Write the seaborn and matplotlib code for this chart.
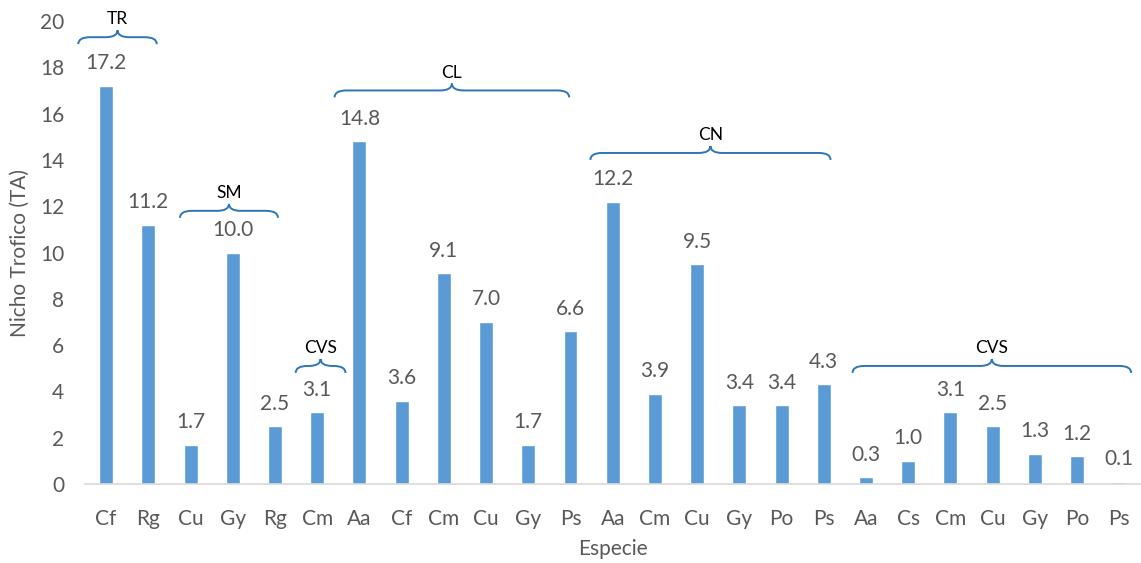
import numpy as np
import matplotlib
matplotlib.use("Agg")
import matplotlib.pyplot as plt
from matplotlib.path import Path
from matplotlib.patches import PathPatch
import seaborn as sns

# Species codes along the x axis, in plotting order
species = ["Cf", "Rg", "Cu", "Gy", "Rg", "Cm", "Aa", "Cf", "Cm", "Cu", "Gy", "Ps",
           "Aa", "Cm", "Cu", "Gy", "Po", "Ps", "Aa", "Cs", "Cm", "Cu", "Gy", "Po", "Ps"]
# Trophic niche (TA) per species
nicho = [17.2, 11.2, 1.7, 10.0, 2.5, 3.1, 14.8, 3.6, 9.1, 7.0, 1.7, 6.6,
         12.2, 3.9, 9.5, 3.4, 3.4, 4.3, 0.3, 1.0, 3.1, 2.5, 1.3, 1.2, 0.1]
# Habitat groups: label, first bar, last bar
grupos = [("TR", 0, 1), ("SM", 2, 4), ("CVS", 5, 5), ("CL", 6, 11),
          ("CN", 12, 17), ("CVS", 18, 24)]

# Brace placement (x extent in bar units, base height in data units)
brace_layout = [(-0.66, 1.20, 19.0), (1.75, 4.07, 11.5), (4.49, 5.67, 4.8),
                (5.41, 10.97, 16.7), (11.47, 17.16, 14.0), (17.68, 24.28, 4.8)]

sns.set_theme(style="white")
plt.rcParams["font.family"] = ["Lato", "DejaVu Sans"]

fig = plt.figure(figsize=(11.41, 5.63), dpi=100)
ax = fig.add_axes([0.0745, 0.1403, 0.925, 0.8224])

pos = np.arange(len(species))
sns.barplot(x=pos, y=nicho, color="#5B9BD5", width=0.33, saturation=1, ax=ax)

gray = "#595959"
for i, v in enumerate(nicho):
    ax.annotate(f"{v:.1f}", (i, v), xytext=(0, 9), textcoords="offset points",
                ha="center", va="bottom", fontsize=15, color=gray)

ax.set_ylim(0, 20)
ax.set_yticks(np.arange(0, 21, 2))
ax.set_xlim(-0.5, len(species) - 0.5)
ax.set_xticks(pos)
ax.set_xticklabels(species)
ax.tick_params(axis="x", length=0, labelsize=15, labelcolor=gray, pad=18)
ax.tick_params(axis="y", length=0, labelsize=15, labelcolor=gray, pad=15)
ax.set_xlabel("Especie", fontsize=15, color=gray, labelpad=7)
ax.set_ylabel("Nicho Trofico (TA)", fontsize=15, color=gray, labelpad=7)

for s in ["left", "right", "top"]:
    ax.spines[s].set_visible(False)
ax.spines["bottom"].set_color("#d9d9d9")
ax.spines["bottom"].set_linewidth(1.2)


def brace(ax, x0, x1, y, h, label):
    xm = (x0 + x1) / 2
    r = min(0.28, (x1 - x0) / 4)
    hh = h / 2
    verts = [(x0, y), (x0, y + hh), (x0 + r, y + hh),
             (xm - r, y + hh),
             (xm, y + hh), (xm, y + h),
             (xm, y + hh), (xm + r, y + hh),
             (x1 - r, y + hh),
             (x1, y + hh), (x1, y)]
    codes = [Path.MOVETO, Path.CURVE3, Path.CURVE3, Path.LINETO,
             Path.CURVE3, Path.CURVE3, Path.CURVE3, Path.CURVE3,
             Path.LINETO, Path.CURVE3, Path.CURVE3]
    ax.add_patch(PathPatch(Path(verts, codes), fill=False, edgecolor="#2E75B6",
                           linewidth=1.4, clip_on=False))
    ax.text(xm, y + h + 0.12, label, ha="center", va="bottom", fontsize=12.5,
            color="black", clip_on=False)


for (lab, a, b), (x0, x1, yb) in zip(grupos, brace_layout):
    brace(ax, x0, x1, yb, 0.6, lab)

fig.savefig("out.png", dpi=100)
